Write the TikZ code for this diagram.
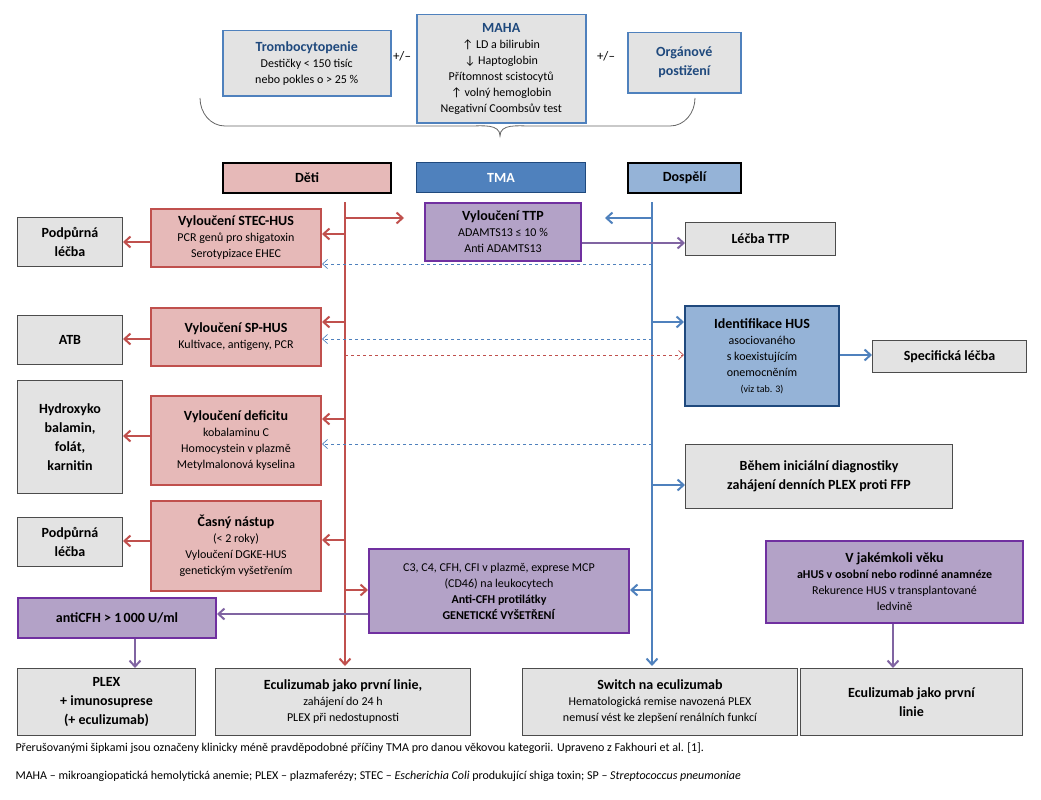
\documentclass[tikz,border=0pt]{standalone}
\usepackage{fontspec}
\setmainfont{Carlito}
\usetikzlibrary{arrows.meta}
\definecolor{redln}{HTML}{C0504D}
\definecolor{redfl}{HTML}{E6B9B8}
\definecolor{bluln}{HTML}{4F81BD}
\definecolor{blufl}{HTML}{95B3D7}
\definecolor{blubd}{HTML}{1F497D}
\definecolor{purln}{HTML}{7030A0}
\definecolor{purfl}{HTML}{B3A2C7}
\definecolor{purar}{HTML}{8064A2}
\definecolor{grayfl}{HTML}{E3E3E3}
\newcommand{\tf}{\fontsize{14}{19}\selectfont\bfseries}
\newcommand{\nf}{\fontsize{12}{16}\selectfont\mdseries}
\tikzset{
  box/.style={draw, anchor=north west, align=center, inner sep=2pt, font=\nf},
  graybox/.style={box, fill=grayfl, draw=black!70, line width=1pt},
  redbox/.style={box, fill=redfl, draw=redln, line width=2pt},
  purbox/.style={box, fill=purfl, draw=purln, line width=2pt},
  topbox/.style={box, fill=grayfl, draw=bluln, line width=1.5pt},
  arr/.style={-{Straight Barb[length=6pt,width=11pt]}, line width=2pt},
  dasharr/.style={-{Straight Barb[length=5pt,width=9pt]}, dashed, line width=0.7pt},
  ttl/.style={font=\tf},
}
\begin{document}
\begin{tikzpicture}[x=1pt,y=-1pt]
\useasboundingbox (0,0) rectangle (1041,800);

% Top row
\node[topbox, minimum width=168, minimum height=65] (trombo) at (222,30)
  {\textcolor{blubd}{\tf Trombocytopenie}\\Destičky < 150 tisíc\\nebo pokles o > 25 \%};
\node[topbox, minimum width=169, minimum height=108] (maha) at (416,14)
  {\textcolor{blubd}{\tf MAHA}\\↑ LD a bilirubin\\↓ Haptoglobin\\Přítomnost scistocytů\\↑ volný hemoglobin\\Negativní Coombsův test};
\node[topbox, minimum width=113, minimum height=60, text=blubd, ttl] (organ) at (627,32)
  {Orgánové\\postižení};
\node[font=\fontsize{13}{15}\selectfont] (pm1) at (402,56) {+/–};
\node[font=\fontsize{13}{15}\selectfont] (pm2) at (606,56) {+/–};
\draw[black!60, line width=0.8pt] (200,98) to[out=-90,in=180] (225,126) -- (470,126)
  to[out=0,in=90] (500,136) to[out=90,in=180] (530,126) -- (670,126) to[out=0,in=-90] (695,98);

% Headers
\node[box, fill=redfl, draw=black, line width=2pt, minimum width=168, minimum height=30, ttl] (deti) at (222,162) {Děti};
\node[box, fill=bluln, draw=blubd, line width=1pt, minimum width=169, minimum height=30, ttl, text=white] (tma) at (416,162) {TMA};
\node[box, fill=blufl, draw=black, line width=2pt, minimum width=113, minimum height=30, ttl] (dosp) at (627,162) {Dospělí};

% Main lines
\coordinate (rtop) at (345,202);
\coordinate (rbot) at (345,666);
\coordinate (btop) at (652,202);
\coordinate (bbot) at (652,666);
\draw[redln, arr] (rtop) -- (rbot);
\draw[bluln, arr] (btop) -- (bbot);

% Children column
\node[redbox, minimum width=170, minimum height=58] (stec) at (150,208)
  {\tf Vyloučení STEC-HUS\\\nf PCR genů pro shigatoxin\\Serotypizace EHEC};
\node[graybox, minimum width=105, minimum height=49, ttl] (pod1) at (17,217) {Podpůrná\\léčba};
\node[redbox, minimum width=170, minimum height=58] (sp) at (150,307)
  {\tf Vyloučení SP-HUS\\\nf Kultivace, antigeny, PCR};
\node[graybox, minimum width=105, minimum height=49, ttl] (atb) at (17,315) {ATB};
\node[redbox, minimum width=170, minimum height=89] (kob) at (150,395)
  {\tf Vyloučení deficitu\\kobalaminu C\\\nf Homocystein v plazmě\\Metylmalonová kyselina};
\node[graybox, minimum width=105, minimum height=113, ttl] (hydro) at (17,380) {Hydroxyko\\balamin,\\folát,\\karnitin};
\node[redbox, minimum width=170, minimum height=90] (casny) at (150,500)
  {\tf Časný nástup\\(< 2 roky)\\\nf Vyloučení DGKE-HUS\\genetickým vyšetřením};
\node[graybox, minimum width=105, minimum height=49, ttl] (pod2) at (17,517) {Podpůrná\\léčba};
\node[purbox, minimum width=198, minimum height=40, ttl] (acfh) at (17,597) {antiCFH > 1\,000 U/ml};

% Middle
\node[purbox, minimum width=156, minimum height=58] (ttp) at (424,202)
  {\tf Vyloučení TTP\\\nf ADAMTS13 ≤ 10 \%\\Anti ADAMTS13};
\node[purbox, minimum width=260, minimum height=84] (c3) at (368,548)
  {C3, C4, CFH, CFI v plazmě, exprese MCP\\(CD46) na leukocytech\\\textbf{Anti-CFH protilátky}\\\textbf{GENETICKÉ VYŠETŘENÍ}};

% Adults column
\node[graybox, minimum width=150, minimum height=33, ttl] (lttp) at (685,222) {Léčba TTP};
\node[box, fill=blufl, draw=blubd, line width=2pt, minimum width=154, minimum height=100] (ident) at (684,305)
  {\tf Identifikace HUS\\asociovaného\\s koexistujícím\\onemocněním\\\fontsize{10}{12}\selectfont\mdseries (viz tab. 3)};
\node[graybox, minimum width=154, minimum height=32, ttl] (spec) at (872,340) {Specifická léčba};
\node[graybox, minimum width=267, minimum height=64, ttl] (behem) at (685,444)
  {Během iniciální diagnostiky\\zahájení denních PLEX proti FFP};
\node[purbox, minimum width=257, minimum height=82] (vjak) at (765,540)
  {\tf V jakémkoli věku\\\nf\bfseries aHUS v osobní nebo rodinné anamnéze\\Rekurence HUS v transplantované\\ledvině};

% Bottom row
\node[graybox, minimum width=178, minimum height=67, ttl] (plex) at (17,668)
  {PLEX\\+ imunosuprese\\(+ eculizumab)};
\node[graybox, minimum width=255, minimum height=67] (ecu1) at (215,668)
  {\tf Eculizumab jako první linie,\\\nf zahájení do 24 h\\PLEX při nedostupnosti};
\node[graybox, minimum width=275, minimum height=67] (switch) at (522,668)
  {\tf Switch na eculizumab\\\nf Hematologická remise navozená PLEX\\nemusí vést ke zlepšení renálních funkcí};
\node[graybox, minimum width=222, minimum height=67, ttl] (ecu2) at (800,668)
  {Eculizumab jako první\\linie};

% Red arrows
\draw[redln, arr] (345,234) -- (stec.east |- 0,234);
\draw[redln, arr] (345,322) -- (sp.east |- 0,322);
\draw[redln, arr] (345,419) -- (kob.east |- 0,419);
\draw[redln, arr] (345,540) -- (casny.east |- 0,540);
\draw[redln, arr] (345,218) -- (404,218);
\draw[redln, arr] (345,590) -- (c3.west |- 0,590);
\foreach \a/\b/\y in {stec/pod1/242, sp/atb/339, kob/hydro/436, casny/pod2/541}
  \draw[redln, arr] (\a.west |- 0,\y) -- (\b.east |- 0,\y);

% Blue arrows
\draw[bluln, arr] (652,218) -- (605,218);
\draw[bluln, arr] (652,322) -- (ident.west |- 0,322);
\draw[bluln, arr] (652,485) -- (behem.west |- 0,485);
\draw[bluln, arr] (652,590) -- (c3.east |- 0,590);
\draw[bluln, arr] (ident.east |- 0,355) -- (spec.west |- 0,355);

% Purple arrows
\draw[purar, arr] (ttp.east |- 0,243) -- (lttp.west |- 0,243);
\draw[purar, arr] (c3.west |- 0,614) -- (acfh.east |- 0,614);
\draw[purar, arr] (acfh.south -| 135,0) -- (plex.north -| 135,0);
\draw[purar, arr] (vjak.south -| 893,0) -- (ecu2.north -| 893,0);

% Dashed arrows
\draw[bluln, dasharr] (652,264) -- (stec.east |- 0,264);
\draw[bluln, dasharr] (652,339) -- (sp.east |- 0,339);
\draw[bluln, dasharr] (652,444) -- (kob.east |- 0,444);
\draw[redln, dasharr] (345,355) -- (ident.west |- 0,355);

% Caption
\node[anchor=west, font=\fontsize{12}{14}\selectfont] (cap1) at (12,748)
  {Přerušovanými šipkami jsou označeny klinicky méně pravděpodobné příčiny TMA pro danou věkovou kategorii. Upraveno z Fakhouri et al. [1].};
\node[anchor=west, font=\fontsize{12}{14}\selectfont] (cap2) at (12,776)
  {MAHA – mikroangiopatická hemolytická anemie; PLEX – plazmaferézy; STEC – \textit{Escherichia Coli} produkující shiga toxin; SP – \textit{Streptococcus pneumoniae}};
\end{tikzpicture}
\end{document}
